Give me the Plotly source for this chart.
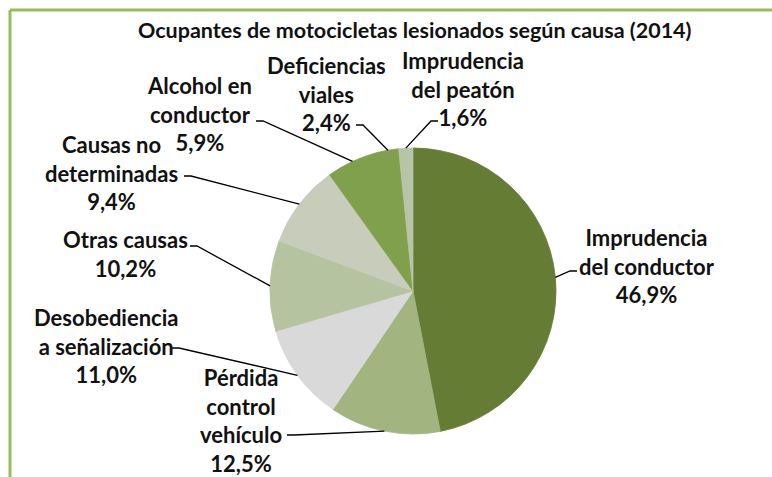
import math
import plotly.graph_objects as go

# ---- data ----
categories = ["Imprudencia<br>del conductor", "Pérdida<br>control<br>vehículo",
              "Desobediencia<br>a señalización", "Otras causas", "Causas no<br>determinadas",
              "Alcohol en<br>conductor", "Deficiencias<br>viales", "Imprudencia<br>del peatón"]
values = [46.9, 12.5, 11.0, 10.2, 9.4, 5.9, 2.4, 1.6]
value_labels = ["46,9%", "12,5%", "11,0%", "10,2%", "9,4%", "5,9%", "2,4%", "1,6%"]
colors = ["#647C34", "#A2B480", "#D9D9D9", "#B6C3A1", "#C8CCBB", "#81A04D", "#81A04D", "#B8C4A7"]
title = "Ocupantes de motocicletas lesionados según causa (2014)"

# ---- layout geometry (pixels) ----
W, H = 772, 477
cx, cy, r = 413, 291, 143
# label centres and leader anchor (text side) in px
label_pos = [(647, 266), (241, 420), (106, 346), (125, 254), (112, 173), (200, 114), (326, 94), (463, 89)]
anchors = [(577, 271), (287, 435), (172, 348), (190, 246), (184, 176), (256, 121), (356, 125), (438, 121)]
elbow_dir = [-1, 1, 1, 1, 1, 1, 1, -1]

FONT = "Lato"
fs = 22

def px(x):
    return x / W

def py(y):
    return 1 - y / H

fig = go.Figure(go.Pie(
    labels=[c.replace("<br>", " ") for c in categories], values=values,
    marker=dict(colors=colors, line=dict(width=0.8, color=colors)),
    sort=False, direction="clockwise", rotation=0,
    textinfo="none", hoverinfo="label+percent", showlegend=False,
    domain=dict(x=[px(cx - r), px(cx + r)], y=[py(cy + r), py(cy - r)]),
))

total = sum(values)
cum = 0.0
shapes = []
annotations = []
for i, v in enumerate(values):
    mid = (cum + v / 2) / total * 2 * math.pi
    cum += v
    ex = cx + r * math.sin(mid)
    ey = cy - r * math.cos(mid)
    ax, ay = anchors[i]
    bx = ax + 7 * elbow_dir[i]
    path = f"M {px(ax)},{py(ay)} L {px(bx)},{py(ay)} L {px(ex)},{py(ey)}"
    shapes.append(dict(type="path", path=path, xref="paper", yref="paper",
                       line=dict(color="black", width=1.3)))
    lx, ly = label_pos[i]
    annotations.append(dict(x=px(lx), y=py(ly), xref="paper", yref="paper",
                            text=f"<b>{categories[i]}<br>{value_labels[i]}</b>",
                            showarrow=False, align="center", xanchor="center", yanchor="middle",
                            font=dict(family=FONT, size=fs, color="#111111")))

annotations.append(dict(x=px(415), y=py(30), xref="paper", yref="paper", text=f"<b>{title}</b>",
                        showarrow=False, xanchor="center", yanchor="middle",
                        font=dict(family=FONT, size=21.5, color="#111111")))

# frame
shapes.append(dict(type="line", xref="paper", yref="paper", x0=px(10), x1=px(W + 5), y0=py(10), y1=py(10),
                   line=dict(color="#9BBB59", width=3)))
shapes.append(dict(type="line", xref="paper", yref="paper", x0=px(10), x1=px(10), y0=py(10), y1=py(H + 5),
                   line=dict(color="#9BBB59", width=3)))

fig.update_layout(width=W, height=H, margin=dict(l=0, r=0, t=0, b=0),
                  paper_bgcolor="white", plot_bgcolor="white",
                  shapes=shapes, annotations=annotations)
fig.write_html("out.html", config={"displayModeBar": False},
               post_script="document.body.style.margin='0px';document.body.style.overflow='hidden';")
